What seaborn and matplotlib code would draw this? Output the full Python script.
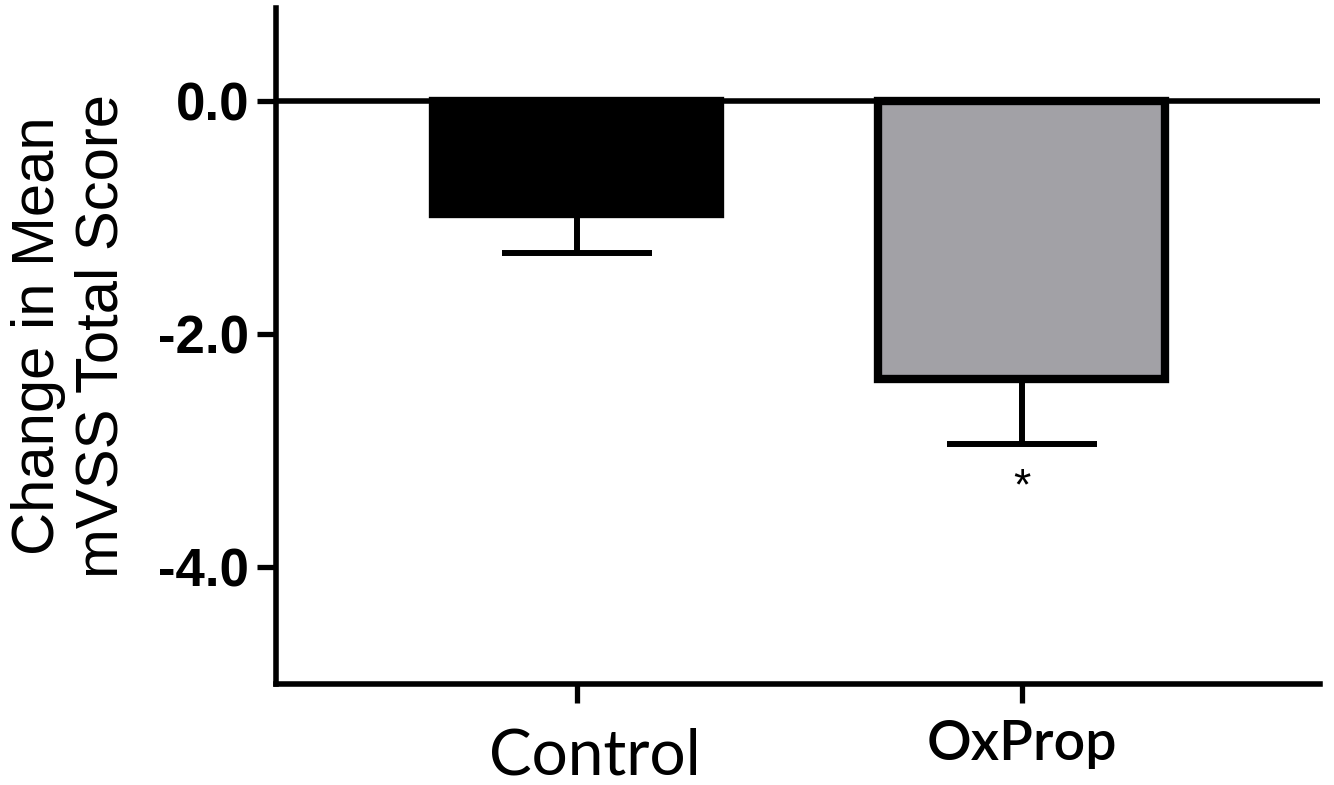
import matplotlib
matplotlib.use("Agg")
import matplotlib.pyplot as plt
import seaborn as sns

# values
groups = ["Control", "OxProp"]
mean_change = [-0.97, -2.38]
sem_change = [0.33, 0.56]
bar_colors = ["#000000", "#a2a1a6"]
sig_marks = ["", "*"]
sig_y = [None, -3.32]
ytick_values = [0.0, -2.0, -4.0]
ytick_labels = ["0.0", "-2.0", "-4.0"]

sns.set_style("ticks")
plt.rcParams["text.color"] = "black"

fig = plt.figure(figsize=(13.34, 7.85), dpi=100)
ax = fig.add_axes([0.2069, 0.1287, 0.7826, 0.8611])

sns.barplot(x=groups, y=mean_change, hue=groups, palette=bar_colors, legend=False,
            saturation=1, width=0.645, edgecolor="black", linewidth=6,
            errorbar=None, ax=ax, zorder=3)

# one-sided (downward) SEM error bars
ax.errorbar(range(len(groups)), mean_change, yerr=[sem_change, [0] * len(groups)],
            fmt="none", ecolor="black", elinewidth=4.3, capsize=54, capthick=4.3, zorder=2)

for i, mark in enumerate(sig_marks):
    if mark:
        ax.text(i, sig_y[i], mark, ha="center", va="center", fontsize=32,
                family="Liberation Sans", color="black")

ax.axhline(0, color="black", lw=4.0, zorder=4)

ax.set_ylim(-5.0, 0.8)
ax.set_xlim(-0.676, 1.670)
ax.set_yticks(ytick_values)
ax.set_yticklabels(ytick_labels, fontsize=38, fontweight="bold", family="Liberation Sans")
ax.set_xticks(range(len(groups)))
ax.set_xticklabels([])

# category names (drawn as text so each can sit where it does in the original)
xt = ax.get_xaxis_transform()
ax.text(0.04, -0.065, groups[0], transform=xt, ha="center", va="top",
        fontsize=46, family="Lato", color="black")
ax.text(1.0, -0.052, groups[1], transform=xt, ha="center", va="top",
        fontsize=40, family="Lato", fontweight="semibold", color="black")

ax.tick_params(axis="y", length=13.5, width=3.8, pad=6, color="black", labelcolor="black")
ax.tick_params(axis="x", length=13.5, width=3.8, color="black")

for side in ["top", "right"]:
    ax.spines[side].set_visible(False)
for side in ["left", "bottom"]:
    ax.spines[side].set_linewidth(4.0)
    ax.spines[side].set_color("black")

ax.set_xlabel("")
ax.set_ylabel("Change in Mean\nmVSS Total Score", fontsize=43, color="black",
              family="Liberation Sans")
ax.yaxis.set_label_coords(-0.14, 0.515)

fig.savefig("out.png", dpi=100)
